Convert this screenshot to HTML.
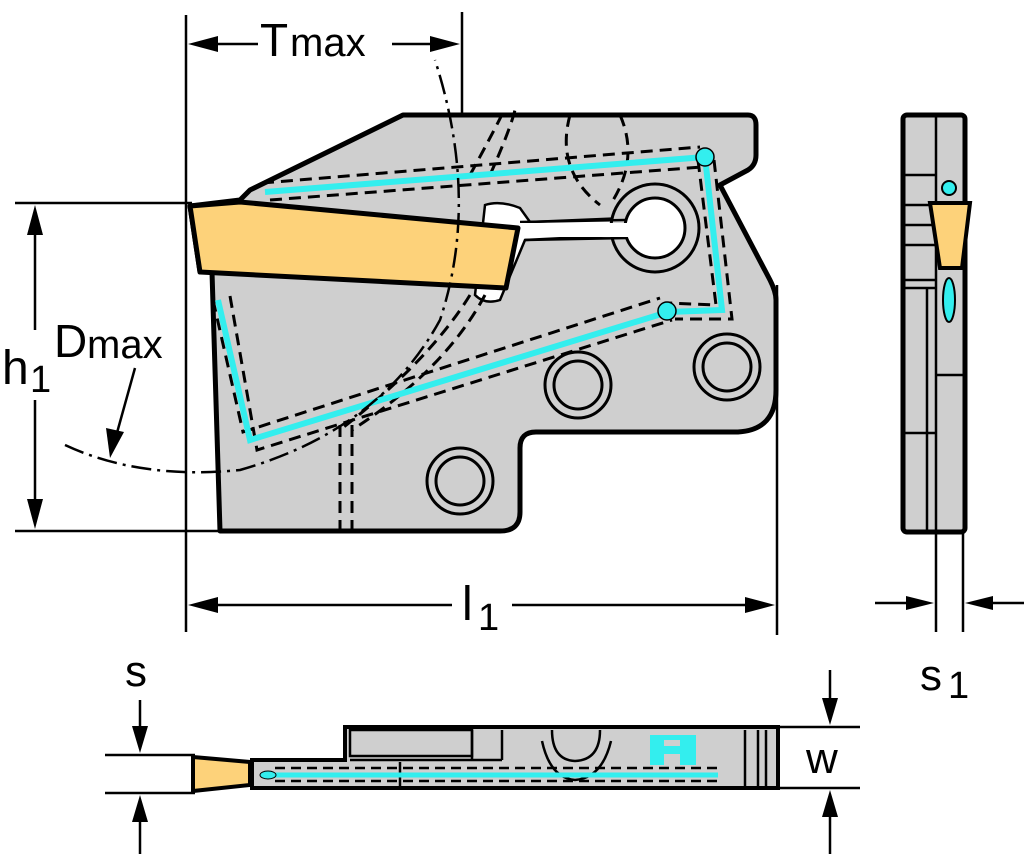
<!DOCTYPE html>
<html><head><meta charset="utf-8"><style>
html,body{margin:0;padding:0;background:#fff;}
svg{display:block;}
text{font-family:"Liberation Sans",sans-serif;fill:#000;}
</style></head><body>
<svg width="1024" height="854" viewBox="0 0 1024 854" xmlns="http://www.w3.org/2000/svg">
<g stroke="#000" stroke-width="2.5" fill="none">
<line x1="186" y1="15" x2="186" y2="632"/>
<line x1="462" y1="12" x2="462" y2="210"/>
<line x1="777" y1="285" x2="777" y2="635"/>
<line x1="15" y1="203" x2="192" y2="203"/>
<line x1="15" y1="531" x2="222" y2="531"/>
<line x1="35" y1="230" x2="35" y2="330"/>
<line x1="35" y1="400" x2="35" y2="505"/>
<line x1="215" y1="44" x2="258" y2="44"/>
<line x1="392" y1="44" x2="435" y2="44"/>
<line x1="215" y1="605" x2="452" y2="605"/>
<line x1="512" y1="605" x2="750" y2="605"/>
</g>
<g fill="#000">
<polygon points="188,44 218,36 218,52"/>
<polygon points="460,44 430,36 430,52"/>
<polygon points="35,205 27,235 43,235"/>
<polygon points="35,529 27,499 43,499"/>
<polygon points="188,605 218,597 218,613"/>
<polygon points="775,605 745,597 745,613"/>
</g>
<path d="M220,531 L212,272 L200,272 L190,206 L240,200 L250,190 L403,115 L748,115 Q756,115 756,125 L756,155 Q756,165 748,170 L720,185 L770,280 Q776,292 776,300 L776,390 Q776,430 738,432 L536,432 Q520,432 520,448 L520,512 Q520,531 500,531 Z" fill="#cfcfcf" stroke="#000" stroke-width="5" stroke-linejoin="round"/>
<path d="M485,205 Q500,200 520,208 L530,222 L625,218 L625,235 L525,240 L500,300 Q485,305 475,295 Z" fill="#fff" stroke="#000" stroke-width="2.5"/>
<circle cx="655" cy="228" r="44" fill="#cfcfcf" stroke="#000" stroke-width="3"/>
<circle cx="655" cy="228" r="30" fill="#fff" stroke="#000" stroke-width="3"/>
<path d="M520,222 L625,220 M525,240 L627,238" stroke="#000" stroke-width="2.5"/>
<rect x="520" y="223" width="110" height="14" fill="#fff"/>
<g fill="none" stroke="#000" stroke-width="3">
<circle cx="578" cy="385" r="33"/><circle cx="578" cy="385" r="24"/>
<circle cx="727" cy="367" r="33"/><circle cx="727" cy="367" r="24"/>
<circle cx="460" cy="481" r="33"/><circle cx="460" cy="481" r="24"/>
</g>
<g fill="none" stroke="#000" stroke-width="3" stroke-dasharray="12,7">
<path d="M262,183 L700,147 M270,200 L702,167"/>
<path d="M698,160 L716,305 L668,303 M714,160 L732,319 L675,319"/>
<path d="M213,300 L243,432 L660,298 M230,296 L257,450 L672,320"/>
<path d="M340,425 L340,530 M352,425 L352,530"/>
<path d="M470,175 Q500,120 505,108 M490,175 Q510,130 515,110"/>
<path d="M570,115 Q555,170 600,205 M620,115 Q640,160 610,205"/>
<path d="M470,295 Q430,360 340,430 M485,295 Q445,370 352,430"/>
</g>
<g fill="none" stroke="#33eeee" stroke-width="6">
<path d="M265,192 L705,157 L722,310 L668,312 L250,440 L218,300"/>
</g>
<circle cx="705" cy="157" r="9" fill="#33eeee" stroke="#000" stroke-width="1.5"/>
<circle cx="667" cy="311" r="9" fill="#33eeee" stroke="#000" stroke-width="1.5"/>
<polygon points="190,206 240,202 518,228 506,288 200,272" fill="#fdd27a" stroke="#000" stroke-width="5" stroke-linejoin="round"/>
<path d="M65,445 Q140,480 240,470 Q380,430 440,320 Q480,200 435,60" fill="none" stroke="#000" stroke-width="2.5" stroke-dasharray="20,6,3,6"/>
<line x1="135" y1="368" x2="115" y2="440" stroke="#000" stroke-width="2.5"/>
<polygon points="110,458 106,428 124,432" fill="#000"/>
<text x="260" y="56" font-size="46">T</text><text x="290" y="56" font-size="40">max</text>
<text x="2" y="384" font-size="48">h</text><text x="30" y="392" font-size="38">1</text>
<text x="54" y="357" font-size="46">D</text><text x="87" y="358" font-size="40">max</text>
<text x="462" y="620" font-size="48">l</text><text x="478" y="630" font-size="38">1</text>
<rect x="903" y="115" width="62" height="417" rx="4" fill="#cfcfcf" stroke="#000" stroke-width="5"/>
<g stroke="#000" stroke-width="2.5" fill="none">
<line x1="936" y1="115" x2="936" y2="532"/>
<line x1="905" y1="175" x2="936" y2="175"/>
<line x1="905" y1="205" x2="935" y2="205"/>
<line x1="905" y1="225" x2="935" y2="225"/>
<line x1="905" y1="245" x2="935" y2="245"/>
<line x1="905" y1="280" x2="935" y2="280"/>
<line x1="905" y1="288" x2="935" y2="288"/>
<line x1="927" y1="288" x2="927" y2="532"/>
<line x1="905" y1="433" x2="936" y2="433"/>
<line x1="936" y1="375" x2="963" y2="375"/>
</g>
<polygon points="930,203 970,203 962,268 940,268" fill="#fdd27a" stroke="#000" stroke-width="4"/>
<circle cx="949" cy="188" r="7" fill="#33eeee" stroke="#000" stroke-width="2"/>
<ellipse cx="949" cy="300" rx="6" ry="22" fill="#33eeee" stroke="#000" stroke-width="2"/>
<g stroke="#000" stroke-width="2.5">
<line x1="936" y1="532" x2="936" y2="632"/>
<line x1="963" y1="532" x2="963" y2="632"/>
<line x1="875" y1="603" x2="910" y2="603"/>
<line x1="990" y1="603" x2="1024" y2="603"/>
</g>
<polygon points="934,603 906,596 906,610" fill="#000"/>
<polygon points="965,603 993,596 993,610" fill="#000"/>
<text x="920" y="690" font-size="44">s</text><text x="948" y="698" font-size="38">1</text>
<g stroke="#000" stroke-width="2.5">
<line x1="105" y1="755" x2="195" y2="755"/>
<line x1="105" y1="793" x2="195" y2="793"/>
<line x1="140" y1="700" x2="140" y2="730"/>
<line x1="140" y1="818" x2="140" y2="854"/>
<line x1="778" y1="727" x2="860" y2="727"/>
<line x1="778" y1="788" x2="860" y2="788"/>
<line x1="830" y1="670" x2="830" y2="700"/>
<line x1="830" y1="815" x2="830" y2="854"/>
</g>
<polygon points="140,753 132,726 148,726" fill="#000"/>
<polygon points="140,795 132,822 148,822" fill="#000"/>
<polygon points="830,725 822,698 838,698" fill="#000"/>
<polygon points="830,790 822,817 838,817" fill="#000"/>
<path d="M345,727 L778,727 L778,788 L252,788 L252,760 L345,760 Z" fill="#cfcfcf" stroke="#000" stroke-width="4"/>
<g stroke="#000" stroke-width="2.5" fill="none">
<rect x="350" y="730" width="122" height="26"/>
<line x1="472" y1="730" x2="472" y2="760"/>
<line x1="502" y1="730" x2="502" y2="760"/>
<line x1="350" y1="760" x2="502" y2="760"/>
<line x1="400" y1="762" x2="400" y2="786"/>
<line x1="745" y1="730" x2="745" y2="786"/>
<line x1="758" y1="730" x2="758" y2="786"/>
<line x1="766" y1="730" x2="766" y2="786"/>
<path d="M552,730 Q552,760 575,761 Q600,760 600,730"/>
<path d="M542,741 Q550,778 575,780 Q602,778 611,741"/>
</g>
<rect x="650" y="735" width="46" height="30" fill="#33eeee"/>
<rect x="664" y="740" width="16" height="6" fill="#cfcfcf"/>
<rect x="664" y="754" width="16" height="11" fill="#cfcfcf"/>
<line x1="262" y1="775" x2="718" y2="775" stroke="#33eeee" stroke-width="5"/>
<g fill="none" stroke="#000" stroke-width="2.5" stroke-dasharray="10,6">
<line x1="275" y1="768" x2="718" y2="768"/>
<line x1="275" y1="781" x2="718" y2="781"/>
</g>
<ellipse cx="268" cy="775" rx="8" ry="4" fill="#33eeee" stroke="#000" stroke-width="1"/>
<polygon points="193,757 250,762 250,785 193,791" fill="#fdd27a" stroke="#000" stroke-width="4"/>
<text x="125" y="686" font-size="44">s</text>
<text x="806" y="773" font-size="44">w</text>
</svg>
</body></html>
